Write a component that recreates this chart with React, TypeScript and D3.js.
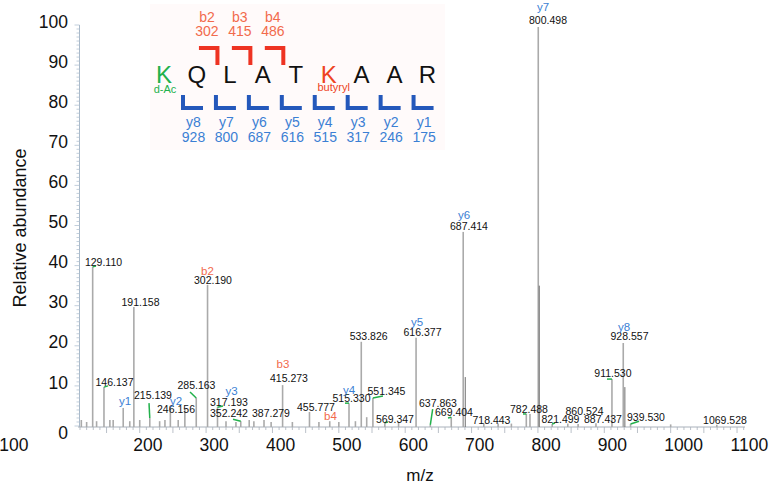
import React from "react";
import * as d3 from "d3";

// ---- spectrum data (m/z, relative abundance) ----
const peakMz = [112, 120, 129.11, 135, 146.137, 155, 160, 175.119, 185, 191.158, 200, 215.139, 230, 238, 246.156, 258, 268, 285.163, 302.19, 317.193, 330, 345, 352.242, 365, 372, 387.279, 398, 415.273, 430, 455.777, 470, 486.3, 500, 515.33, 525, 533.826, 542, 551.345, 569.347, 590, 616.377, 637.863, 669.404, 687.414, 718.443, 740, 760, 782.488, 788, 800.498, 821.499, 845, 860.524, 887.437, 911.53, 928.557, 939.53, 1000, 1069.528];
const peakInt = [1.5, 1, 39.7, 1.2, 9.7, 1.5, 1.5, 4.5, 1.2, 29.7, 1.5, 2, 1.2, 1.5, 5, 1.5, 4.3, 7, 35.2, 4.7, 1.2, 1, 1.2, 1.5, 1.2, 1.5, 1, 10.2, 1, 3.5, 1, 1.2, 1, 5.7, 1.2, 21, 2.2, 7, 0.8, 0.8, 22, 0.3, 2.2, 48.4, 0.7, 0.6, 0.6, 3, 3, 99.5, 0.5, 0.6, 0.5, 0.7, 11.7, 20.7, 0.5, 0.4, 0.3];

// overlapping secondary peaks (drawn darker)
const overlayMz = [690.5, 802, 931];
const overlayInt = [12.2, 35, 9.7];

// peak m/z labels, anchored in data units
const labelText = ["129.110", "191.158", "302.190", "146.137", "215.139", "246.156", "285.163", "317.193", "352.242", "387.279", "415.273", "455.777", "515.330", "533.826", "551.345", "569.347", "616.377", "637.863", "669.404", "687.414", "718.443", "782.488", "800.498", "821.499", "860.524", "887.437", "911.530", "928.557", "939.530", "1069.528"];
const labelMz = [145.4, 201.2, 310.4, 162, 220, 254.7, 285.5, 334.5, 334.5, 397.8, 424.9, 465.6, 519.1, 544.9, 571.8, 584.6, 626.1, 649.4, 673.5, 696.1, 730, 786.5, 815.2, 834, 870.2, 898, 913, 938, 962.8, 1081.8];
const labelInt = [40.6, 30.7, 36.2, 10.7, 7.5, 4, 10, 5.7, 3, 3, 11.7, 4.5, 6.7, 22.2, 8.5, 1.5, 23.2, 5.5, 3.2, 49.6, 1.2, 4, 101, 1.5, 3.5, 1.5, 13, 22.2, 2, 1.2];

// fragment ion labels on the spectrum
const ionText = ["b2", "y1", "y2", "y3", "b3", "b4", "y4", "y5", "y6", "y7", "y8"];
const ionKind = ["b", "y", "y", "y", "b", "b", "y", "y", "y", "y", "y"];
const ionMz = [302.1, 177.8, 254.7, 338.3, 415.9, 487.4, 515.3, 617.8, 688.6, 807.6, 929.7];
const ionInt = [38.4, 6, 6, 8.5, 15.2, 2.2, 8.7, 25.7, 52.4, 104.2, 24.4];

// green leader lines (from peak top to label)
const leaderFromMz = [129.11, 146.137, 215.139, 285.163, 317.193, 352.242, 515.33, 551.345, 569.347, 637.863, 669.404, 782.488, 821.499, 911.53, 939.53];
const leaderFromInt = [39.7, 9.7, 2, 7, 4.7, 1.2, 5.7, 7, 0.8, 0.3, 2.2, 3, 0.5, 11.7, 0.5];
const leaderToMz = [134.1, 152.2, 214, 275.8, 325.5, 340.5, 509.3, 566.5, 574.1, 641.4, 664.5, 777.5, 825.7, 904, 952.4];
const leaderToInt = [39.9, 10, 5.7, 8.5, 5, 1.7, 5.7, 7.5, 1, 4.2, 2, 3, 0.75, 11.7, 1.2];

// axis ticks
const xTickValues = [100, 200, 300, 400, 500, 600, 700, 800, 900, 1000, 1100];
const yTickValues = [0, 10, 20, 30, 40, 50, 60, 70, 80, 90, 100];

// peptide sequence diagram
const residues = ["K", "Q", "L", "A", "T", "K", "A", "A", "R"];
const residueKind = ["mod1", "std", "std", "std", "std", "mod2", "std", "std", "std"];
const bNames = ["b2", "b3", "b4"];
const bMasses = ["302", "415", "486"];
const bAfter = [1, 2, 3];
const yNames = ["y8", "y7", "y6", "y5", "y4", "y3", "y2", "y1"];
const yMasses = ["928", "800", "687", "616", "515", "317", "246", "175"];

const FONT = "'Liberation Sans', Arial, Helvetica, sans-serif";
const B_COLOR = "#f26a4c";
const Y_COLOR = "#3b7fd4";
const B_BRACKET = "#ee3322";
const Y_BRACKET = "#2458bb";
const GREEN = "#22b14c";

export default function App() {
  const W = 782, H = 488;
  const x = d3.scaleLinear().domain([107, 1112]).range([78, 745]);
  const y = d3.scaleLinear().domain([0, 100]).range([426, 25]);
  const axisY = y(0) + 1;
  const axisX = 79.5;

  const minorX = d3.range(110, 1111, 10);
  const minorY = d3.range(0, 101, 1);

  const seq = d3.scalePoint<number>().domain(d3.range(residues.length)).range([164, 427.5]);
  const resColor = (k: string) => (k === "mod1" ? GREEN : k === "mod2" ? "#ee4422" : "#111");

  return (
    <svg width={W} height={H} style={{ position: "absolute", left: 0, top: 0, background: "#fff" }} fontFamily={FONT}>
      <rect x={0} y={0} width={W} height={H} fill="#fff" />
      {/* very faint tint behind the sequence diagram */}
      <rect x={150} y={4} width={295} height={146} fill="#fffafa" />

      {/* y axis */}
      <line x1={axisX} x2={axisX} y1={y(100)} y2={axisY} stroke="#a9b9c9" strokeWidth={1} />
      {minorY.map((v) => (
        <line key={"my" + v} x1={axisX - (v % 10 === 0 ? 5 : 3)} x2={axisX} y1={y(v)} y2={y(v)} stroke="#b3c3d3" strokeWidth={0.8} />
      ))}
      {yTickValues.map((v) => (
        <text key={"yt" + v} x={68} y={y(v) + (v === 0 ? 8 : -2)} textAnchor="end" dominantBaseline="middle" fontSize={17.5} fill="#111">
          {v}
        </text>
      ))}
      <text transform={`translate(21,${(y(100) + axisY) / 2 + 2}) rotate(-90)`} textAnchor="middle" dominantBaseline="middle" fontSize={18} fill="#111">
        Relative abundance
      </text>

      {/* x axis */}
      <line x1={78} x2={745} y1={axisY} y2={axisY} stroke="#a9b1bb" strokeWidth={1} />
      {minorX.map((v) => (
        <line key={"mx" + v} x1={x(v)} x2={x(v)} y1={axisY} y2={axisY + (v % 50 === 0 ? 6 : 3)} stroke="#a9b1bb" strokeWidth={0.8} />
      ))}
      {xTickValues.map((v, i) => (
        <text key={"xt" + v} x={i === 0 ? x(v) - 74 : x(v) - 6.5} y={451} textAnchor="start" fontSize={17.5} fill="#111">
          {v}
        </text>
      ))}
      <text x={420} y={481} textAnchor="middle" fontSize={17} fill="#111">m/z</text>

      {/* sticks */}
      {peakMz.map((m, i) => (
        <line key={"p" + i} x1={x(m)} x2={x(m)} y1={axisY} y2={y(peakInt[i])} stroke="#aaaaaa" strokeWidth={1.6} />
      ))}
      {overlayMz.map((m, i) => (
        <line key={"o" + i} x1={x(m)} x2={x(m)} y1={axisY} y2={y(overlayInt[i])} stroke="#6e6e6e" strokeWidth={1} />
      ))}

      {/* leaders */}
      {leaderFromMz.map((m, i) => (
        <line key={"l" + i} x1={x(m)} y1={y(leaderFromInt[i])} x2={x(leaderToMz[i])} y2={y(leaderToInt[i])} stroke={GREEN} strokeWidth={1.5} />
      ))}

      {/* peak labels */}
      {labelText.map((t, i) => (
        <text key={"t" + i} x={x(labelMz[i])} y={y(labelInt[i])} textAnchor="middle" dominantBaseline="middle" fontSize={10.5} fill="#111">
          {t}
        </text>
      ))}
      {ionText.map((t, i) => (
        <text key={"i" + i} x={x(ionMz[i])} y={y(ionInt[i])} textAnchor="middle" dominantBaseline="middle" fontSize={11.5} fill={ionKind[i] === "b" ? B_COLOR : Y_COLOR}>
          {t}
        </text>
      ))}

      {/* peptide sequence */}
      {residues.map((r, i) => (
        <text key={"r" + i} x={seq(i)} y={77} textAnchor="middle" dominantBaseline="middle" fontSize={24} fill={resColor(residueKind[i])}>
          {r}
        </text>
      ))}
      <text x={(seq(0) as number) + 1} y={90} textAnchor="middle" dominantBaseline="middle" fontSize={11} fill={GREEN}>d-Ac</text>
      <text x={(seq(5) as number) + 5} y={88} textAnchor="middle" dominantBaseline="middle" fontSize={11} fill="#ee4422">butyryl</text>

      {bNames.map((b, i) => {
        const xk = seq(bAfter[i]) as number;
        return (
          <g key={"b" + i}>
            <path d={`M${xk + 2},48 H${xk + 20.5} V65`} fill="none" stroke={B_BRACKET} strokeWidth={4} />
            <text x={xk + 10} y={18} textAnchor="middle" dominantBaseline="middle" fontSize={14} fill={B_COLOR}>{b}</text>
            <text x={xk + 10} y={32} textAnchor="middle" dominantBaseline="middle" fontSize={14} fill={B_COLOR}>{bMasses[i]}</text>
          </g>
        );
      })}
      {yNames.map((n, i) => {
        const xk = seq(i) as number;
        return (
          <g key={"y" + i}>
            <path d={`M${xk + 19},95 V108 H${xk + 39}`} fill="none" stroke={Y_BRACKET} strokeWidth={4} />
            <text x={xk + 29.5} y={123} textAnchor="middle" dominantBaseline="middle" fontSize={14} fill={Y_COLOR}>{n}</text>
            <text x={xk + 29.5} y={138} textAnchor="middle" dominantBaseline="middle" fontSize={14} fill={Y_COLOR}>{yMasses[i]}</text>
          </g>
        );
      })}
    </svg>
  );
}
